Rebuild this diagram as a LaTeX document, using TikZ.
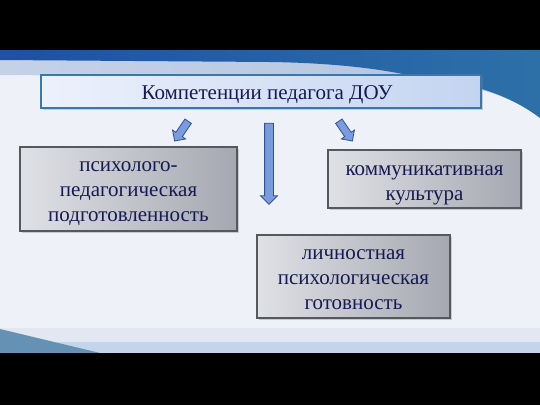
\documentclass[tikz,border=0pt]{standalone}
\usepackage{fontspec}
\setmainfont{Liberation Serif}
\usetikzlibrary{shadows,shapes.arrows}
\definecolor{txt}{RGB}{22,26,82}
\definecolor{bgc}{RGB}{238,242,248}
\definecolor{swL}{RGB}{178,196,224}
\definecolor{swLL}{RGB}{196,210,232}
\definecolor{swA}{RGB}{30,80,165}
\definecolor{swB}{RGB}{45,112,168}
\definecolor{tbL}{RGB}{236,241,252}
\definecolor{tbR}{RGB}{196,212,240}
\definecolor{tbD}{RGB}{55,120,175}
\definecolor{gbL}{RGB}{224,225,229}
\definecolor{gbR}{RGB}{165,168,177}
\definecolor{gbD}{RGB}{85,88,92}
\definecolor{arF}{RGB}{122,156,222}
\definecolor{arD}{RGB}{50,80,150}
\definecolor{bbA}{RGB}{225,232,242}
\definecolor{bbB}{RGB}{196,212,234}
\definecolor{bbT}{RGB}{100,145,180}
\newcommand{\topstrut}[1]{\rule{0pt}{#1}}
\newcommand{\botstrut}[1]{\rule[-#1]{0pt}{#1}}
\tikzset{
  titlebox/.style={draw=tbD, line width=1.4pt, left color=tbL, right color=tbR,
    minimum width=440pt, minimum height=33pt, inner sep=0pt,
    text height=15pt, text depth=0pt,
    font=\fontsize{21}{25}\selectfont, text=txt,
    drop shadow={shadow xshift=1.5pt, shadow yshift=-1.5pt, opacity=0.35}},
  graybox/.style={draw=gbD, line width=1.2pt, left color=gbL, right color=gbR,
    inner sep=0pt, align=center, font=\fontsize{21}{25}\selectfont, text=txt,
    drop shadow={shadow xshift=1.5pt, shadow yshift=-1.5pt, opacity=0.35}},
  blockarrow/.style={single arrow, draw=arD, line width=0.8pt, fill=arF,
    inner xsep=0pt, single arrow head extend=4pt, single arrow tip angle=90,
    single arrow head indent=0pt}
}
\begin{document}
\begin{tikzpicture}[x=1pt,y=-1pt]
\useasboundingbox (0,0) rectangle (540,405);
% background
\fill[bgc] (0,0) rectangle (540,405);
% top swoosh: light band
\shade[left color=swLL, right color=swL]
  (0,56) -- (540,56) -- (540,118) .. controls (510,95) and (470,82) .. (400,78)
  -- (0,75) -- cycle;
% top swoosh: dark band
\shade[left color=swA, right color=swB]
  (0,50) -- (540,50) -- (540,118) .. controls (510,95) and (470,82) .. (425,79)
  .. controls (390,70) and (340,63) .. (270,62) -- (0,60) -- cycle;
% bottom band
\fill[bbA] (0,328) rectangle (540,342);
\fill[bbB] (0,342) rectangle (540,353);
\fill[bbT] (0,329) -- (100,353) -- (0,353) -- cycle;
% black bands
\fill[black] (0,0) rectangle (540,50);
\fill[black] (0,353) rectangle (540,405);
% nodes
\node[titlebox] (title) at (261,91.5) {\hspace*{12pt}Компетенции педагога ДОУ};
\node[graybox, minimum width=217pt, minimum height=84pt] (ppp) at (128.5,189)
  {\topstrut{20pt}психолого-\\педагогическая\\подготовленность\botstrut{4pt}};
\node[graybox, minimum width=193pt, minimum height=58pt] (kk) at (424.5,179)
  {\topstrut{23pt}коммуникативная\\культура\botstrut{2pt}};
\node[graybox, minimum width=193pt, minimum height=83pt] (lpg) at (353.5,276.5)
  {\topstrut{20pt}личностная\\психологическая\\готовность\botstrut{4pt}};
% arrows
\node[blockarrow, inner ysep=4pt, minimum height=81pt, rotate=-90] (am) at (269,161.5) {};
\node[blockarrow, inner ysep=3.5pt, minimum height=24pt, rotate=-124.4] (al) at (182.5,129.5) {};
\node[blockarrow, inner ysep=3.5pt, minimum height=24pt, rotate=-55.6] (ar) at (344.5,129.5) {};
\end{tikzpicture}
\end{document}
